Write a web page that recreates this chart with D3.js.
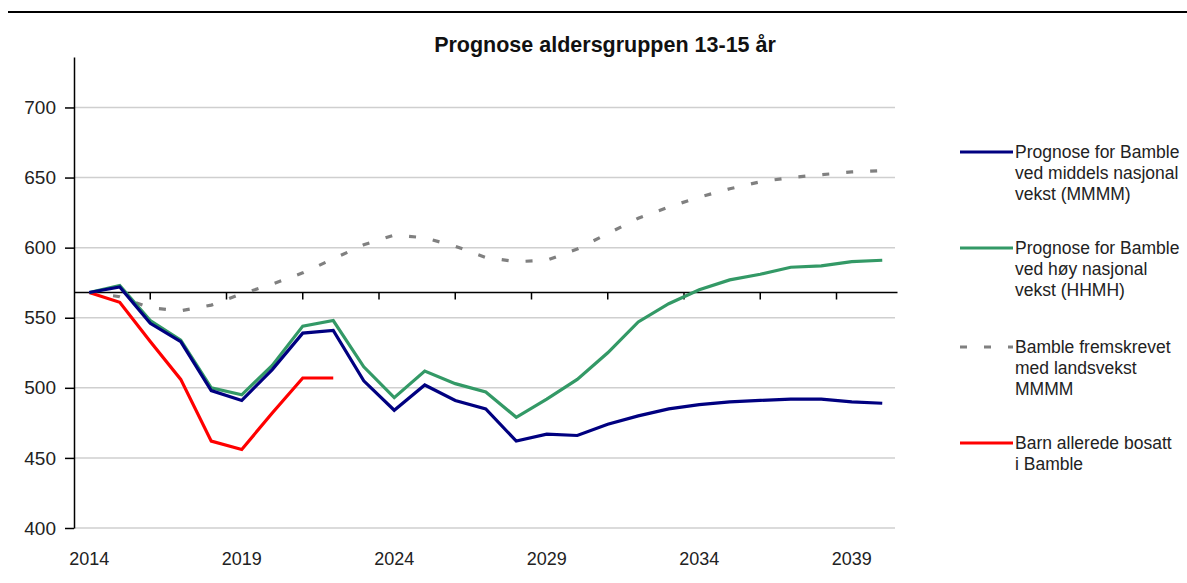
<!DOCTYPE html>
<html>
  <head>
    <meta charset="utf-8">
    <style>
     body{
         margin: 0;
         background-color: #ffffff;
         font-family: "Liberation Sans", Arial, sans-serif;
     }
     .axis text{
         font-family: "Liberation Sans", Arial, sans-serif;
         font-size: 18px;
         fill: #222;
     }
    </style>
    <script src="https://d3js.org/d3.v7.min.js"></script>
    <title>Prognose aldersgruppen 13-15 år</title>
  </head>
  <body>
    <script>
    // data
    const years = [2014, 2015, 2016, 2017, 2018, 2019, 2020, 2021, 2022, 2023, 2024, 2025, 2026, 2027,
                   2028, 2029, 2030, 2031, 2032, 2033, 2034, 2035, 2036, 2037, 2038, 2039, 2040];
    const middels = [568, 572, 546, 533, 498, 491, 513, 539, 541, 505, 484, 502, 491, 485,
                     462, 467, 466, 474, 480, 485, 488, 490, 491, 492, 492, 490, 489];
    const hoy = [568, 573, 548, 534, 500, 495, 516, 544, 548, 515, 493, 512, 503, 497,
                 479, 492, 506, 525, 547, 560, 570, 577, 581, 586, 587, 590, 591];
    const landsvekst = [568, 565, 557, 555, 559, 567, 574, 582, 592, 602, 609, 607, 601, 593,
                        590, 591, 599, 610, 621, 629, 636, 642, 647, 650, 652, 654, 655];
    const bosatt = [568, 561, 533, 506, 462, 456, 482, 507, 507];
    const yTicks = [400, 450, 500, 550, 600, 650, 700];
    const xLabels = [2014, 2019, 2024, 2029, 2034, 2039];

    const series = [
      {name: ["Prognose for Bamble", "ved middels nasjonal", "vekst (MMMM)"], values: middels, color: "#000080", dash: null},
      {name: ["Prognose for Bamble", "ved høy nasjonal", "vekst (HHMH)"], values: hoy, color: "#339966", dash: null},
      {name: ["Bamble fremskrevet", "med landsvekst", "MMMM"], values: landsvekst, color: "#808080", dash: "7,17"},
      {name: ["Barn allerede bosatt", "i Bamble"], values: bosatt, color: "#ff0000", dash: null}
    ];

    const w = 1187, h = 583;
    const plotLeft = 74, plotRight = 897.5, plotTop = 57, plotBottom = 528;
    const crossAt = 568;

    const svg = d3.select("body").append("svg")
        .attr("width", w)
        .attr("height", h);

    // rule above the chart
    svg.append("line")
       .attr("x1", 8).attr("x2", w)
       .attr("y1", 12).attr("y2", 12)
       .attr("stroke", "#000").attr("stroke-width", 2);

    svg.append("text")
       .attr("x", 605).attr("y", 52)
       .attr("text-anchor", "middle")
       .attr("font-size", 21.5).attr("font-weight", "bold")
       .attr("fill", "#111")
       .text("Prognose aldersgruppen 13-15 år");

    const x = d3.scaleBand().domain(years).range([plotLeft, plotRight]);
    const xc = d => x(d) + x.bandwidth() / 2;
    const xIdx = d3.scaleLinear().domain([0, years.length]).range([plotLeft, plotRight]);
    const y = d3.scaleLinear().domain([400, 736]).range([plotBottom, plotTop]);

    // gridlines
    svg.append("g").selectAll("line")
       .data(yTicks)
       .enter().append("line")
       .attr("x1", plotLeft).attr("x2", 895)
       .attr("y1", d => y(d)).attr("y2", d => y(d))
       .attr("stroke", "#cfcfcf").attr("stroke-width", 1.5);

    // y axis
    const yAxis = d3.axisLeft(y).tickValues(yTicks).tickSize(9).tickSizeOuter(0).tickPadding(9);
    const gy = svg.append("g").attr("class", "axis")
       .attr("transform", "translate(" + plotLeft + ",0)")
       .call(yAxis);
    gy.select(".domain").attr("stroke", "#000").attr("stroke-width", 1.5);
    gy.selectAll(".tick line").attr("stroke", "#000").attr("stroke-width", 1.5);
    gy.selectAll(".tick text").style("font-size", "19px");

    // x axis crosses at 568, labels at the bottom
    svg.append("line")
       .attr("x1", plotLeft).attr("x2", plotRight)
       .attr("y1", y(crossAt)).attr("y2", y(crossAt))
       .attr("stroke", "#000").attr("stroke-width", 1.5);
    svg.append("g").selectAll("line")
       .data(d3.range(2.5, years.length, 2.5))
       .enter().append("line")
       .attr("x1", d => xIdx(d)).attr("x2", d => xIdx(d))
       .attr("y1", y(crossAt)).attr("y2", y(crossAt) + 7)
       .attr("stroke", "#000").attr("stroke-width", 1.5);
    svg.append("g").attr("class", "axis").selectAll("text")
       .data(xLabels)
       .enter().append("text")
       .attr("x", d => xc(d))
       .attr("y", 565)
       .attr("text-anchor", "middle")
       .text(d => d);

    const line = d3.line()
       .x((d, i) => xc(years[i]))
       .y(d => y(d));

    // draw grey first, then the others on top
    [2, 3, 1, 0].forEach(function (k) {
      const s = series[k];
      svg.append("path")
         .datum(s.values)
         .attr("d", line)
         .attr("fill", "none")
         .attr("stroke", s.color)
         .attr("stroke-width", 3.2)
         .attr("stroke-dasharray", s.dash);
    });

    // legend
    const legY = [152, 248, 347, 443];
    const leg = svg.append("g").selectAll("g")
       .data(series)
       .enter().append("g")
       .attr("transform", (d, i) => "translate(960," + legY[i] + ")");
    leg.append("line")
       .attr("x1", 0).attr("x2", 53)
       .attr("stroke", d => d.color)
       .attr("stroke-width", 3)
       .attr("stroke-dasharray", d => d.dash);
    leg.each(function (d) {
      const t = d3.select(this).append("text")
         .attr("x", 55).attr("y", 6)
         .attr("font-size", 17.5)
         .attr("fill", "#222");
      d.name.forEach(function (s, j) {
        t.append("tspan").attr("x", 55).attr("dy", j ? 21 : 0).text(s);
      });
    });
    </script>
  </body>
</html>
